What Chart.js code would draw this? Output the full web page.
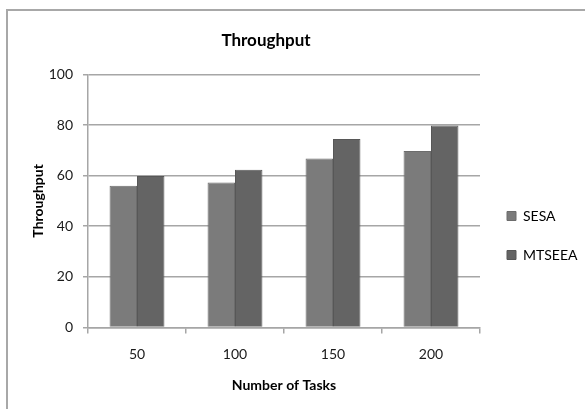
<!DOCTYPE html>
<html>
<head>
<meta charset="utf-8">
<script src="https://cdn.jsdelivr.net/npm/chart.js@4/dist/chart.umd.min.js"></script>
<style>
  html, body { margin: 0; padding: 0; background: #fff; overflow: hidden; }
  #frame { position: absolute; left: 6px; top: 9px; width: 640px; height: 460px;
           border: 2px solid #a8a8a8; box-sizing: border-box; }
  #wrap { position: absolute; left: 0; top: 0; width: 585px; height: 409px; }
</style>
</head>
<body>
<div id="frame"></div>
<div id="wrap"><canvas id="chart"></canvas></div>
<script>
// data
var tasks   = [ '50', '100', '150', '200' ];
var sesa    = [ 56, 57.3, 66.8, 69.7 ];
var mtseea  = [ 59.8, 62.3, 74.5, 79.8 ];
var yTicks  = [ 0, 20, 40, 60, 80, 100 ];

var FONT = 'Lato, "Open Sans", sans-serif';
var GRID = '#a6a6a6';

/** moves title and legend to where the reference has them */
var placeBoxes = {
    id: 'placeBoxes',
    afterLayout: function( chart ) {
        var t = chart.titleBlock;
        if ( t ) { t.left = 7; t.right = 525; t.width = 518; }
        var l = chart.legend;
        if ( l ) {
            var w = l.width, h = l.height;
            l.left = 482; l.top = 184; l.right = l.left + w; l.bottom = l.top + h;
        }
    }
};

new Chart( document.getElementById( 'chart' ), {
    type: 'bar',
    data: {
        labels: tasks,
        datasets: [
            { label: 'SESA',   data: sesa,   backgroundColor: '#7b7b7b', borderColor: '#6c6c6c', borderWidth: 1 },
            { label: 'MTSEEA', data: mtseea, backgroundColor: '#646464', borderColor: '#575757', borderWidth: 1 }
        ]
    },
    options: {
        responsive: true,
        maintainAspectRatio: false,
        animation: false,
        devicePixelRatio: 1,
        layout: { padding: { left: 0, right: 105, top: 0, bottom: 11 } },
        datasets: { bar: { categoryPercentage: 0.56, barPercentage: 1 } },
        plugins: {
            title: {
                display: true,
                text: 'Throughput',
                color: '#000',
                font: { family: FONT, size: 17, weight: 'bold' },
                padding: { top: 30, bottom: 24 }
            },
            legend: {
                position: 'chartArea',
                align: 'start',
                labels: {
                    boxWidth: 9,
                    boxHeight: 9,
                    padding: 25,
                    color: '#222',
                    font: { family: FONT, size: 14 },
                    generateLabels: function( chart ) {
                        return chart.data.datasets.map( function( ds, i ) {
                            return { text: ds.label, fillStyle: ds.backgroundColor, strokeStyle: ds.borderColor,
                                     lineWidth: 1, datasetIndex: i, hidden: false };
                        });
                    }
                }
            },
            tooltip: { enabled: false }
        },
        scales: {
            x: {
                grid: { display: true, drawOnChartArea: false, drawTicks: true, tickLength: 6, color: GRID, lineWidth: 1.5, offset: true },
                border: { display: true, color: GRID, width: 1.5 },
                ticks: { color: '#1a1a1a', font: { family: FONT, size: 14 }, padding: 13 },
                title: { display: true, text: 'Number of Tasks', color: '#000',
                         font: { family: FONT, size: 14, weight: 'bold' }, padding: { top: 1, bottom: 4 } }
            },
            y: {
                min: 0,
                max: 100,
                afterBuildTicks: function( scale ) {
                    scale.ticks = yTicks.map( function( v ) { return { value: v }; } );
                },
                afterFit: function( scale ) { scale.width = 88; },
                grid: { color: GRID, lineWidth: 1.5, tickLength: 5 },
                border: { display: true, color: GRID, width: 1.5 },
                ticks: { color: '#1a1a1a', font: { family: FONT, size: 14 }, padding: 10 },
                title: { display: true, text: 'Throughput', color: '#000',
                         font: { family: FONT, size: 14, weight: 'bold' }, padding: { top: 30, bottom: 0 } }
            }
        }
    },
    plugins: [ placeBoxes ]
});
</script>
</body>
</html>
